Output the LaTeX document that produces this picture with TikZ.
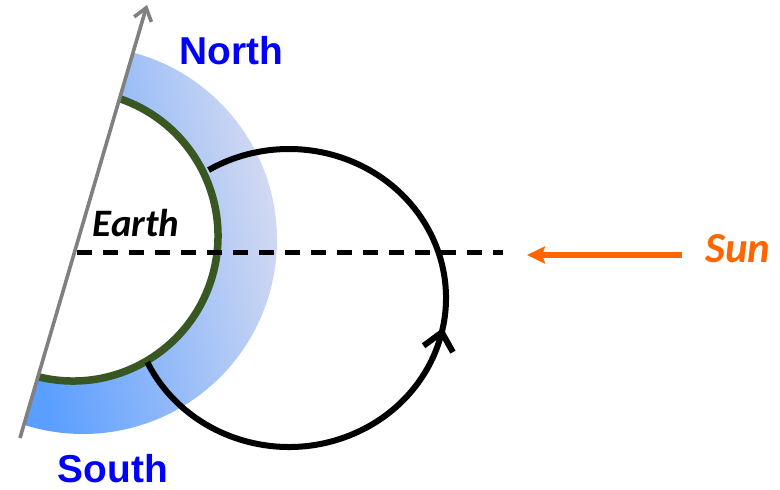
\documentclass[tikz,border=0pt]{standalone}
\usepackage{fontspec}
\usetikzlibrary{arrows.meta,decorations.markings}
\newfontfamily\polefont{Liberation Sans}
\newfontfamily\notefont{Carlito}
\definecolor{poleblue}{RGB}{0,0,255}
\definecolor{sunorange}{RGB}{255,102,0}
\definecolor{earthgreen}{RGB}{56,87,35}
\definecolor{axisgray}{RGB}{128,128,128}
\definecolor{banddeep}{RGB}{90,158,255}
\definecolor{bandmid}{RGB}{150,198,248}
\definecolor{bandpale}{RGB}{222,223,240}
\begin{document}
\begin{tikzpicture}[x=1bp,y=1bp,
  bandshade/.style={left color=banddeep, middle color=bandmid, right color=bandpale, shading angle=102},
  groundarc/.style={draw=earthgreen, line width=7.5bp},
  orbitline/.style={draw=black, line width=6bp},
  axisline/.style={draw=axisgray, line width=3.6bp, -{Straight Barb[length=12bp,width=18bp]}},
  rayline/.style={draw=black, line width=5bp, dash pattern=on 15bp off 11bp},
  sunray/.style={draw=sunorange, line width=6bp, -{Stealth[length=18bp,width=17bp,inset=3bp]}},
  polelabel/.style={font=\polefont\bfseries\fontsize{39}{39}\selectfont, text=poleblue, inner sep=0pt, anchor=base},
  notelabel/.style={font=\notefont\bfseries\itshape\fontsize{39}{39}\selectfont, inner sep=0pt, anchor=base}]
\useasboundingbox (0,0) rectangle (780,490);

% centres of the Earth, its air band and the orbit
\coordinate (earthC) at (73,254);
\coordinate (bandC) at (83,250);
\coordinate (orbitC) at (289,192);
% tilted rotation axis
\coordinate (axisS) at (20,52);
\coordinate (axisN) at (147,485);
% sight line and sunlight
\coordinate (rayW) at (77,237);
\coordinate (rayE) at (503,237);
\coordinate (sunTail) at (682,235);
\coordinate (sunTip) at (527,235);

% shaded half ring, cut by the axis
\shade[bandshade] ([shift={(bandC)}]75.04:194) arc[start angle=75.04, end angle=-107.7, radius=194]
  -- ([shift={(earthC)}]-104:145) arc[start angle=-104, end angle=71.27, radius=145] -- cycle;

% ground surface
\draw[groundarc] ([shift={(earthC)}]-104:145) arc[start angle=-104, end angle=71.27, radius=145];

% daily path, running anticlockwise
\draw[orbitline, postaction={decorate},
  decoration={markings, mark=at position 0.52 with {\arrow[line width=6bp]{Straight Barb[length=17bp,width=30bp]}}}]
  ([shift={(orbitC)}]-154.5:157 and 149) arc[start angle=-154.5, end angle=120.8, x radius=157, y radius=149];

\draw[axisline] (axisS) -- (axisN);
\draw[rayline] (rayW) -- (rayE);
\draw[sunray] (sunTail) -- (sunTip);

\node[polelabel] (north) at (231,425) {North};
\node[polelabel] (south) at (113,7) {South};
\node[notelabel] (earth) at (136,253) {Earth};
\node[notelabel, text=sunorange, font=\notefont\bfseries\itshape\fontsize{43}{43}\selectfont] (sun) at (738,227) {Sun};
\end{tikzpicture}
\end{document}
